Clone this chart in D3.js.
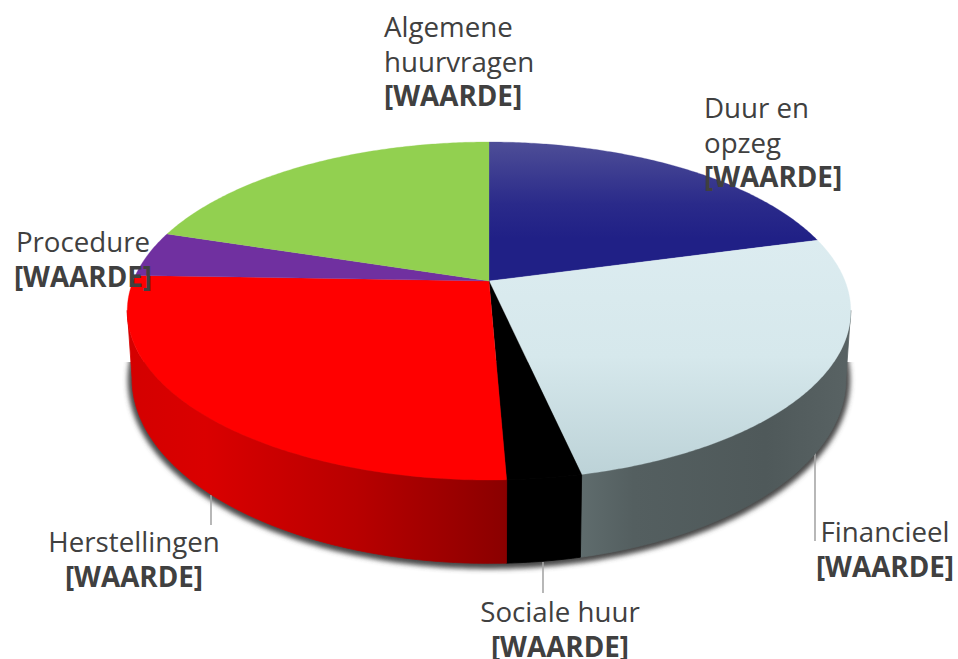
<!DOCTYPE html>
<html><head><meta charset="utf-8">
<script src="https://cdn.jsdelivr.net/npm/d3@7/dist/d3.min.js"></script>
<style>html,body{margin:0;padding:0;background:#fff;overflow:hidden}text{font-family:"Open Sans",Lato,sans-serif;fill:#404040}</style>
</head><body><svg id="c" width="958" height="659"></svg>
<script>
const categories = ["Duur en opzeg","Financieel","Sociale huur","Herstellingen","Procedure","Algemene huurvragen"];
const values = [20.8,25.75,2.8,26.2,4.35,20.1];
const valueLabel = "[WAARDE]";
const labelLines = [["Duur en","opzeg"],["Financieel"],["Sociale huur"],["Herstellingen"],["Procedure"],["Algemene","huurvragen"]];

const svg = d3.select("#c"), defs = svg.append("defs");
const K = 0.1776;
const topDisc = {cx:489, cy:281, a:356, b:163.7};
const baseDisc = {cx:489, cy:345.7, a:351.3, b:179};
const wallFrom = 100*Math.PI/180, wallTo = 260*Math.PI/180;
const project = (ang, d) => {
  const u = Math.sin(ang), v = Math.cos(ang), w = 1 + K*v;
  return [d.cx + d.a*u/w, d.cy - d.b*v/w];
};
const arcPts = (a0, a1, d) => {
  const n = Math.max(2, Math.ceil((a1-a0)/0.01));
  return d3.range(n+1).map(i => project(a0 + (a1-a0)*i/n, d));
};
const line = d3.line();

function grad(id, x1,y1,x2,y2, stops){
  const g = defs.append("linearGradient").attr("id",id).attr("gradientUnits","userSpaceOnUse")
    .attr("x1",x1).attr("y1",y1).attr("x2",x2).attr("y2",y2);
  stops.forEach(s => g.append("stop").attr("offset",s[0]).attr("stop-color",s[1]));
  return `url(#${id})`;
}
const topFill = [
  grad("t0",0,142,0,280,[[0,"#4e4e97"],[0.45,"#2a2a8a"],[0.7,"#202086"],[1,"#202086"]]),
  grad("t1",0,240,0,472,[[0,"#dcecf0"],[0.5,"#d6e8ec"],[1,"#bdd3d8"]]),
  "#000000","#ff0000","#7030a0","#92d050"
];
const wallFill = [
  grad("w1",581,0,845,0,[[0,"#5f6c6d"],[0.2,"#545f60"],[0.7,"#4f595a"],[1,"#586263"]]),
  "#000000",
  grad("w3",130,0,507,0,[[0,"#d40000"],[0.2,"#da0000"],[0.6,"#b80000"],[1,"#8a0000"]])
];
const wallFor = {1:0, 2:1, 3:2};

const blur = defs.append("filter").attr("id","sh").attr("x","-10%").attr("y","-10%").attr("width","120%").attr("height","120%");
blur.append("feGaussianBlur").attr("stdDeviation",2.4);
defs.append("clipPath").attr("id","shClip").append("rect").attr("x",0).attr("y",362).attr("width",958).attr("height",297);

const slices = d3.pie().sort(null).value(d=>d)(values);

// shadow under the base
const shadowDisc = {cx:489, cy:346.4, a:355.5, b:183};
svg.append("g").attr("clip-path","url(#shClip)")
  .append("path").attr("filter","url(#sh)").attr("fill","#4a4a4a")
  .attr("d", line(arcPts(0,2*Math.PI,shadowDisc))+"Z");

// leader lines
const leaders = [[211,495,211,525],[543,562,543,593],[815,453,815,541]];
svg.append("g").selectAll("line").data(leaders).join("line")
  .attr("x1",d=>d[0]).attr("y1",d=>d[1]).attr("x2",d=>d[2]).attr("y2",d=>d[3])
  .attr("stroke","#a6a6a6").attr("stroke-width",1.6);

// walls: only the part of each slice that faces the viewer
const wallPath = d => {
  const a0 = Math.max(d.startAngle, wallFrom), a1 = Math.min(d.endAngle, wallTo);
  return line(arcPts(a0,a1,topDisc).concat(arcPts(a0,a1,baseDisc).reverse()))+"Z";
};
svg.append("g").selectAll("path").data(slices.filter((d,i)=>i in wallFor)).join("path")
  .attr("fill",d=>wallFill[wallFor[d.index]])
  .attr("stroke",d=>wallFill[wallFor[d.index]]).attr("stroke-width",0.8)
  .attr("d",wallPath);

// top face
svg.append("g").selectAll("path").data(slices).join("path")
  .attr("fill",d=>topFill[d.index]).attr("stroke",d=>topFill[d.index]).attr("stroke-width",0.3)
  .attr("d",d=>line([[topDisc.cx,topDisc.cy]].concat(arcPts(d.startAngle,d.endAngle,topDisc)))+"Z");

// labels
const labelLayout = [
  {x:704,y:118,anchor:"start"},
  {x:885,y:542,anchor:"middle"},
  {x:560,y:622,anchor:"middle"},
  {x:134,y:552,anchor:"middle"},
  {x:83,y:252,anchor:"middle"},
  {x:384,y:37,anchor:"start"}
];
const lh = 34.5;
const g = svg.append("g").selectAll("text").data(categories).join("text")
  .attr("text-anchor",(d,i)=>labelLayout[i].anchor)
  .attr("x",(d,i)=>labelLayout[i].x).attr("y",(d,i)=>labelLayout[i].y)
  .style("font-size","27.7px");
g.each(function(d,i){
  const t = d3.select(this), L = labelLayout[i];
  labelLines[i].forEach((s,j)=>t.append("tspan").attr("x",L.x).attr("y",L.y+j*lh).text(s));
  t.append("tspan").attr("x",L.x).attr("y",L.y+labelLines[i].length*lh).style("font-weight",700).style("font-size","27.8px").text(valueLabel);
});
</script></body></html>
